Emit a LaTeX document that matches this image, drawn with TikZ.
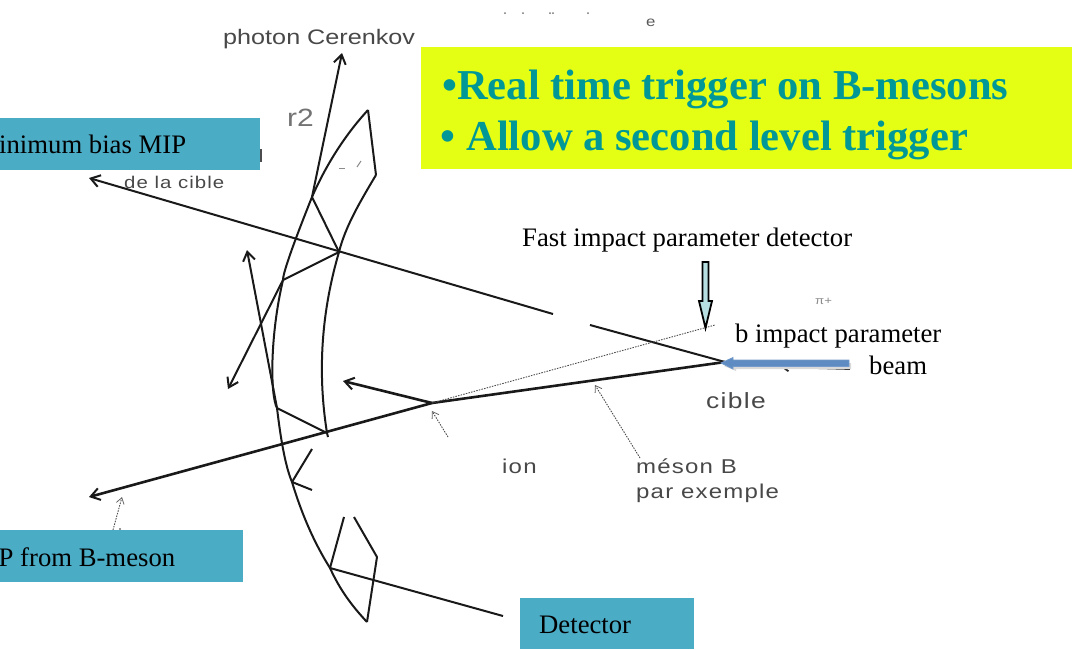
\documentclass[tikz,border=0pt]{standalone}
\usepackage{fontspec}
\setmainfont{Liberation Serif}
\newfontfamily\scanfont[FakeStretch=1.2]{Liberation Sans}
\newfontfamily\scanwide[FakeStretch=1.2,LetterSpace=6]{Liberation Sans}
\usetikzlibrary{arrows.meta}
\definecolor{tealbox}{HTML}{4BACC6}
\definecolor{yellowbox}{HTML}{E4FF14}
\definecolor{tealtext}{HTML}{009896}
\definecolor{scangray}{HTML}{484848}
\definecolor{bluearrow}{HTML}{4F81BD}
\definecolor{paleteal}{HTML}{B7DEE0}
\tikzset{
  x=1pt,y=-1pt,
  ink/.style={line width=2pt,black!90,line join=round},
  track/.style={ink,-{Straight Barb[length=9pt,width=12pt,line width=2pt]}},
  heavytrack/.style={track,line width=2.6pt},
  note/.style={line width=.9pt,black!70,dash pattern=on 1.5pt off 1.2pt},
  notearrow/.style={note,-{Straight Barb[length=6pt,width=8pt,line width=.8pt,black!60]}},
  labelbox/.style={fill=tealbox,draw=none,inner sep=0pt,anchor=north west},
  boxtext/.style={anchor=base west,inner sep=0pt,font=\fontsize{26.7}{30}\selectfont,text=black},
  plaintext/.style={anchor=base west,inner sep=0pt,font=\fontsize{26.7}{30}\selectfont,text=black},
  headline/.style={anchor=base west,inner sep=0pt,font=\fontsize{42.6}{46}\selectfont\bfseries,text=tealtext},
  scantext/.style={anchor=base west,inner sep=0pt,font=\scanfont\fontsize{21}{24}\selectfont,text=scangray},
  scanwidetext/.style={anchor=base west,inner sep=0pt,font=\scanwide\fontsize{20}{24}\selectfont,text=scangray},
  scrap/.style={line width=1pt,black!45},
}
\begin{document}
\begin{tikzpicture}
\useasboundingbox (0,0) rectangle (1072,649);
% named points
\coordinate (target) at (725,362);
\coordinate (vtx) at (432,403);
\coordinate (upA) at (312,197);
\coordinate (upB) at (339,252);
\coordinate (upC) at (283,280);
\coordinate (lowA) at (277,408);
\coordinate (lowB) at (327,433);
\coordinate (lowC) at (292,482);
\coordinate (botA) at (330,568);
\coordinate (tipTop) at (368,110);
\coordinate (tipRight) at (376,175);
\coordinate (tipBottom) at (367,622);
\coordinate (botRight) at (377,557);
% mirror
\draw[ink] (tipTop) .. controls (345,135) and (326,165) .. (upA)
  .. controls (296,237) and (283,272) .. (upC)
  .. controls (270,335) and (270,395) .. (lowA)
  .. controls (282,450) and (287,470) .. (lowC)
  .. controls (305,525) and (320,552) .. (botA)
  .. controls (340,590) and (352,606) .. (tipBottom);
\draw[ink] (tipTop) -- (tipRight);
\draw[ink] (tipRight) .. controls (358,205) and (345,228) .. (upB)
  .. controls (322,310) and (317,370) .. (lowB) -- (328,437);
\draw[ink] (tipBottom) -- (botRight) -- (354,517);
\coordinate (botL) at (344,517);
\draw[ink] (botA) -- (botL);
% Cerenkov rays
\draw[track] (upA) -- (342,53);
\draw[ink] (upA) -- (upB) -- (upC);
\draw[track] (upC) -- (228,389);
\draw[track] (lowA) -- (247,250);
\draw[ink] (lowA) -- (lowB);
\coordinate (cutA) at (312,449);
\coordinate (cutB) at (312,490);
\draw[ink] (cutA) -- (lowC) -- (cutB);
% particle tracks
\coordinate (gapL) at (553,314);
\coordinate (gapR) at (590,325);
\draw[track] (gapL) -- (89,178);
\draw[ink] (gapR) -- (target);
\draw[heavytrack] (target) -- (vtx) -- (89,497);
\draw[heavytrack] (vtx) -- (343,381);
\coordinate (dotEnd) at (715,325);
\draw[note] (vtx) -- (dotEnd);
\coordinate (ionFrom) at (448,437);
\coordinate (ionTo) at (432,411);
\draw[notearrow] (ionFrom) -- (ionTo);
\coordinate (mesFrom) at (640,458);
\coordinate (mesTo) at (595,385);
\draw[notearrow] (mesFrom) -- (mesTo);
\coordinate (mipFrom) at (113,530);
\coordinate (mipTo) at (122,497);
\draw[notearrow] (mipFrom) -- (mipTo);
\coordinate (detEnd) at (503,616);
\draw[ink] (botA) -- (detEnd);
% beam
\fill[black!85] (733,365) circle (3.5pt);
\coordinate (beamB) at (781,367);
\draw[black!85,line width=1.8pt,-{Straight Barb[length=6pt,width=8pt,line width=1.8pt]}] (850,369) -- (beamB);
\fill[black!15] (724,366) -- (736,360) -- (736,363) -- (851,363) -- (851,369) -- (736,369) -- (736,371) -- cycle;
\filldraw[fill=bluearrow!92,draw=bluearrow!80!white,line width=.8pt,line join=miter]
  (721,363) -- (733,357.5) -- (733,360) -- (849,360) -- (849,366.5) -- (733,366.5) -- (733,369) -- cycle;
% hollow arrow
\filldraw[fill=paleteal,draw=black,line width=1.8pt,line join=miter]
  (702.5,262) -- (708.5,262) -- (708.5,301) -- (712,301) -- (705.5,328) -- (699,301) -- (702.5,301) -- cycle;
% boxes
\node[labelbox,minimum width=260pt,minimum height=52pt] (minbias) at (0,118) {};
\node[labelbox,minimum width=243pt,minimum height=52pt] (bmeson) at (0,530) {};
\node[labelbox,minimum width=174pt,minimum height=51pt] (detector) at (520,598) {};
\node[fill=yellowbox,draw=none,inner sep=0pt,anchor=north west,minimum width=651pt,minimum height=122pt] (yellow) at (421,47) {};
% box texts
\node[boxtext] (tminbias) at (-1,153) {inimum bias MIP};
\node[boxtext] (tbmeson) at (-1.5,566) {P from B-meson};
\node[boxtext] (tdetector) at (539,633) {Detector};
\node[headline] (hOne) at (442,99) {•Real time trigger on B-mesons};
\node[headline] (hTwo) at (440.5,150) {• Allow a second level trigger};
\node[plaintext] (tfast) at (522,246) {Fast impact parameter detector};
\node[plaintext] (timpact) at (735,342) {b impact parameter};
\node[plaintext] (tbeam) at (869,374) {beam};
% scanned labels
\node[scantext] (tphoton) at (223,44) {photon Cerenkov};
\node[scantext,font=\scanfont\fontsize{25}{28}\selectfont,text=black!55] (tr) at (287,126) {r2};
\node[scanwidetext,font=\scanwide\fontsize{17}{20}\selectfont] (tcible) at (124,188) {de la cible};
\node[scanwidetext,font=\scanwide\fontsize{22}{26}\selectfont] (tcb) at (706,408) {cible};
\node[scanwidetext] (tion) at (502,473) {ion};
\node[scanwidetext] (tmes) at (636,473) {méson B};
\node[scanwidetext] (tpar) at (636,498) {par exemple};
\node[scantext,font=\scanfont\fontsize{11}{12}\selectfont,text=black!45] (tpi) at (815,304) {π+};
\node[scantext,font=\scanfont\fontsize{14}{16}\selectfont,text=black!65] (te) at (646,26) {e};
% scraps left by the scan
\coordinate (sA) at (261,149); \coordinate (sB) at (261,162);
\draw[line width=1.4pt,black!70] (sA) -- (sB);
\coordinate (sC) at (339,168); \coordinate (sD) at (345,168);
\draw[scrap] (sC) -- (sD);
\coordinate (sE) at (361,161); \coordinate (sF) at (357,167);
\draw[scrap] (sE) -- (sF);
\foreach \px in {505,523,550,553,588} \fill[black!55] (\px,13) circle (1pt);
\fill[black!55] (120,529) circle (1.2pt);
\end{tikzpicture}
\end{document}
